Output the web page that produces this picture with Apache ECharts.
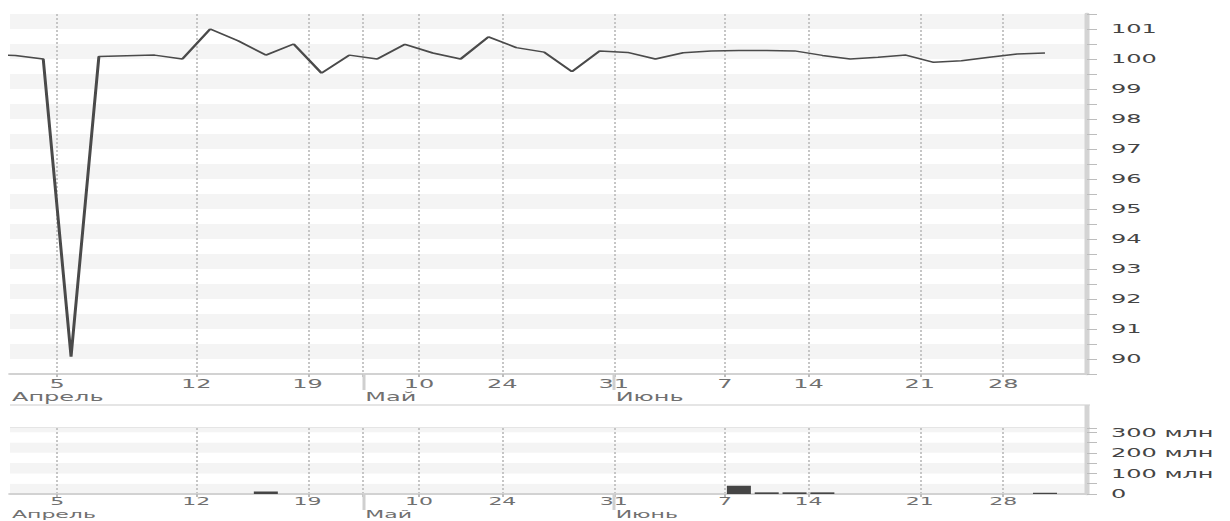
<!DOCTYPE html>
<html>
<head>
<meta charset="utf-8">
<script src="https://cdn.jsdelivr.net/npm/echarts@6/dist/echarts.min.js"></script>
<style>
html,body{margin:0;padding:0;background:#fff;overflow:hidden;}
#chart{width:615px;height:521px;transform:scaleX(2);transform-origin:0 0;}
</style>
</head>
<body>
<div id="chart"></div>
<script>
// ---- data (one entry per trading day) ----
const dates = [
  '2021-04-01','2021-04-02','2021-04-05','2021-04-06','2021-04-07','2021-04-08','2021-04-09',
  '2021-04-12','2021-04-13','2021-04-14','2021-04-15','2021-04-19','2021-04-22','2021-04-27',
  '2021-05-06','2021-05-10','2021-05-13','2021-05-18','2021-05-24','2021-05-25','2021-05-26',
  '2021-05-27','2021-05-31','2021-06-01','2021-06-02','2021-06-03','2021-06-07','2021-06-08',
  '2021-06-09','2021-06-14','2021-06-15','2021-06-16','2021-06-17','2021-06-21','2021-06-22',
  '2021-06-23','2021-06-28','2021-06-29','2021-06-30'
];
const prices = [
  100.15, 100.12, 100.0, 90.08, 100.08, 100.11, 100.13,
  100.0, 101.0, 100.61, 100.13, 100.5, 99.53, 100.13,
  100.0, 100.49, 100.2, 100.0, 100.74, 100.38, 100.23,
  99.58, 100.27, 100.22, 100.0, 100.21, 100.27, 100.28,
  100.28, 100.27, 100.12, 100.0, 100.06, 100.13, 99.89,
  99.94, 100.06, 100.17, 100.2
];
const volumes = [ // млн
  0, 0, 0, 0, 0, 0, 0,
  0, 0, 0, 12, 0, 0, 0,
  0, 0, 0, 0, 0, 0, 0,
  0, 0, 0, 0, 0, 0, 40,
  8, 8, 8, 0, 0, 0, 0,
  0, 0, 0, 6
];
const tickDates = ['2021-04-05','2021-04-12','2021-04-19','2021-05-10','2021-05-24',
                   '2021-05-31','2021-06-07','2021-06-14','2021-06-21','2021-06-28'];
const monthNames = ['Январь','Февраль','Март','Апрель','Май','Июнь','Июль','Август','Сентябрь','Октябрь','Ноябрь','Декабрь'];
const volumeLabels = [0, 100, 200, 300];

// ---- derived positions on the trading-day axis ----
const X_MIN = 0.806, X_MAX = 39.51;           // visible window (in trading-day slots)
const labelPos = tickDates.map(d => dates.indexOf(d) + 0.5);
const labelText = tickDates.map(d => String(parseInt(d.slice(8), 10)));
const monthOf = d => parseInt(d.slice(5, 7), 10) - 1;
const boundaries = [], boundaryMonth = [];
for (let i = 0; i < dates.length - 1; i++) {
  if (monthOf(dates[i]) !== monthOf(dates[i + 1])) { boundaries.push(i + 0.5); boundaryMonth.push(monthOf(dates[i + 1])); }
}
const firstVisible = dates[Math.ceil(X_MIN)];
const monthPos = [X_MIN].concat(boundaries);
const monthText = [monthNames[monthOf(firstVisible)]].concat(boundaryMonth.map(m => monthNames[m]));
const gridPos = labelPos.concat(boundaries.filter(b => !labelPos.some(p => Math.abs(p - b) < 1e-6)));

const near = (arr, v) => arr.findIndex(p => Math.abs(p - v) < 1e-6);
const FONT = 'DejaVu Sans';

function dayAxis(gridIndex, margin, size) {
  return {
    type: 'value', gridIndex, min: X_MIN, max: X_MAX, position: 'bottom',
    axisLine: { show: true, onZero: false, lineStyle: { color: '#d2d2d2', width: 2 } },
    axisTick: { show: true, customValues: gridPos, length: 3, lineStyle: { color: '#bdbdbd', width: 1 } },
    axisLabel: {
      customValues: labelPos, margin: margin, lineHeight: size, color: '#707070', fontFamily: FONT, fontSize: size,
      formatter: v => { const k = near(labelPos, v); return k >= 0 ? labelText[k] : ''; }
    },
    splitLine: { show: true, lineStyle: { color: '#c6c6c6', width: 1, type: [2, 2] } },
    splitArea: { show: false }
  };
}
function monthAxis(gridIndex, margin, size) {
  return {
    type: 'value', gridIndex, min: X_MIN, max: X_MAX, position: 'bottom',
    axisLine: { show: false, onZero: false },
    axisTick: { show: true, customValues: boundaries, length: 16, lineStyle: { color: '#cfcfcf', width: 1.5 } },
    axisLabel: {
      customValues: monthPos, margin: margin, lineHeight: size, align: 'left', padding: [0, 0, 0, 1],
      color: '#707070', fontFamily: FONT, fontSize: size,
      formatter: v => { const k = near(monthPos, v); return k >= 0 ? monthText[k] : ''; }
    },
    splitLine: { show: false }
  };
}

const chart = echarts.init(document.getElementById('chart'), null, { renderer: 'svg' });
chart.setOption({
  animation: false,
  backgroundColor: '#ffffff',
  grid: [
    { left: 5, right: 71.5, top: 14, height: 360, outerBoundsMode: 'none' },
    { left: 5, right: 71.5, top: 428, height: 66, outerBoundsMode: 'none' }
  ],
  xAxis: [dayAxis(0, 4, 12), monthAxis(0, 17, 12), dayAxis(1, 2, 11), monthAxis(1, 15, 11)],
  yAxis: [
    {
      type: 'value', gridIndex: 0, position: 'right', min: 89.5, max: 101.5, interval: 0.5,
      axisLine: { show: true, onZero: false, lineStyle: { color: '#d4d4d4', width: 2.5 } },
      axisTick: { show: true, length: 5, lineStyle: { color: '#bdbdbd', width: 1 } },
      axisLabel: {
        margin: 12, color: '#444', fontFamily: FONT, fontSize: 12,
        formatter: v => Number.isInteger(v) ? String(v) : ''
      },
      splitLine: { show: false },
      splitArea: { show: true, areaStyle: { color: ['#ffffff', '#f4f4f4'] } }
    },
    {
      type: 'value', gridIndex: 1, position: 'right', min: 0, max: 320, interval: 50,
      axisLine: { show: true, onZero: false, lineStyle: { color: '#d4d4d4', width: 2.5 } },
      axisTick: { show: true, length: 5, lineStyle: { color: '#bdbdbd', width: 1 } },
      axisLabel: {
        margin: 12, color: '#444', fontFamily: FONT, fontSize: 12,
        formatter: v => volumeLabels.indexOf(v) >= 0 ? (v === 0 ? '0' : v + ' млн') : ''
      },
      splitLine: { show: false },
      splitArea: { show: true, areaStyle: { color: ['#f4f4f4', '#ffffff'] } }
    }
  ],
  graphic: [
    { type: 'line', silent: true, shape: { x1: 5, y1: 405, x2: 545, y2: 405 }, style: { stroke: '#dcdcdc', lineWidth: 1.5 } },
    { type: 'line', silent: true, shape: { x1: 5, y1: 428, x2: 545, y2: 428 }, style: { stroke: '#dcdcdc', lineWidth: 1.5 } },
    { type: 'line', silent: true, shape: { x1: 543.5, y1: 405, x2: 543.5, y2: 428 }, style: { stroke: '#d4d4d4', lineWidth: 2.5 } }
  ],
  series: [
    {
      type: 'line', xAxisIndex: 0, yAxisIndex: 0, showSymbol: false, symbol: 'none', clip: true,
      lineStyle: { color: '#4a4a4a', width: 1.5 },
      data: prices.map((p, i) => [i, p])
    },
    {
      type: 'bar', xAxisIndex: 2, yAxisIndex: 1, barWidth: 12,
      itemStyle: { color: '#454545' },
      data: volumes.map((v, i) => [i, v])
    }
  ]
});
</script>
</body>
</html>
